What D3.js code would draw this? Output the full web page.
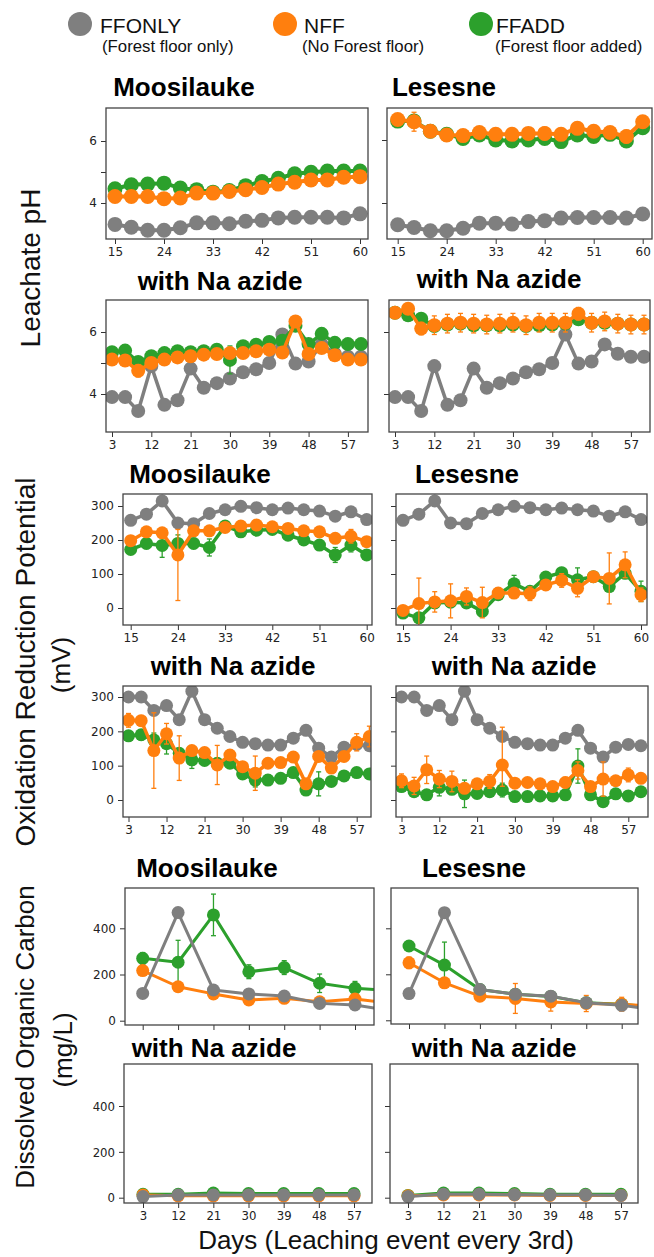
<!DOCTYPE html>
<html>
<head>
<meta charset="utf-8">
<script src="https://cdn.jsdelivr.net/npm/d3@7"></script>
<style>
  body { margin: 0; background: #fff; }
  svg { display: block; }
</style>
</head>
<body>
<svg id="chart"></svg>
<script>
// ---- data ----
const daysLate = [15, 18, 21, 24, 27, 30, 33, 36, 39, 42, 45, 48, 51, 54, 57, 60];
const daysAll = [3, 6, 9, 12, 15, 18, 21, 24, 27, 30, 33, 36, 39, 42, 45, 48, 51, 54, 57, 60];
const daysDoc = [3, 12, 21, 30, 39, 48, 57, 66];
const daysDocAz = [3, 12, 21, 30, 39, 48, 57];

const ticksLate = [15, 24, 33, 42, 51, 60];
const ticksAll = [3, 12, 21, 30, 39, 48, 57];

const seriesNames = ["FFONLY", "NFF", "FFADD"];
const seriesNotes = ["(Forest floor only)", "(No Forest floor)", "(Forest floor added)"];

// pH
const phFFONLY = [3.31, 3.22, 3.12, 3.12, 3.2, 3.36, 3.36, 3.33, 3.41, 3.44, 3.52, 3.54, 3.54, 3.54, 3.52, 3.65];
const phMooNFF = [4.21, 4.21, 4.21, 4.14, 4.16, 4.32, 4.32, 4.37, 4.43, 4.5, 4.61, 4.67, 4.74, 4.74, 4.83, 4.85];
const phMooNFFErr = [0, 0, 0, 0, 0, 0, 0, 0, 0, 0, 0, 0, 0, 0.12, 0.15, 0.12];
const phMooFFADD = [4.46, 4.59, 4.61, 4.64, 4.48, 4.43, 4.35, 4.4, 4.56, 4.69, 4.8, 4.94, 4.99, 5.03, 5.03, 5.03];
const phMooFFADDErr = [0, 0, 0.15, 0, 0, 0, 0, 0, 0, 0, 0, 0, 0, 0, 0, 0];
const phLesNFF = [6.65, 6.58, 6.28, 6.16, 6.14, 6.24, 6.18, 6.18, 6.21, 6.21, 6.18, 6.37, 6.28, 6.24, 6.11, 6.58];
const phLesNFFErr = [0, 0.3, 0, 0, 0, 0, 0, 0, 0, 0.2, 0, 0, 0.1, 0, 0.2, 0];
const phLesFFADD = [6.6, 6.6, 6.28, 6.18, 6.05, 6.16, 6.0, 5.97, 6.0, 6.05, 5.95, 6.16, 6.11, 6.18, 5.97, 6.39];

const phAzFFONLY = [3.9, 3.9, 3.45, 4.9, 3.65, 3.8, 4.82, 4.2, 4.35, 4.5, 4.7, 4.8, 5.0, 5.92, 4.98, 5.05, 5.6, 5.3, 5.2, 5.2];
const phAzMooNFF = [5.11, 5.08, 4.75, 5.0, 5.11, 5.18, 5.22, 5.27, 5.29, 5.32, 5.32, 5.38, 5.43, 5.34, 6.34, 5.29, 5.48, 5.25, 5.11, 5.11];
const phAzMooNFFErr = [0.15, 0.1, 0.2, 0, 0, 0, 0, 0, 0, 0, 0, 0, 0, 0, 0, 0, 0.12, 0, 0, 0];
const phAzMooFFADD = [5.35, 5.4, 5.03, 5.22, 5.32, 5.38, 5.35, 5.38, 5.43, 5.1, 5.54, 5.59, 5.68, 5.72, 6.2, 5.61, 5.94, 5.65, 5.61, 5.61];
const phAzMooFFADDErr = [0.15, 0, 0, 0, 0, 0, 0, 0, 0, 0.45, 0, 0, 0, 0, 0, 0, 0, 0, 0, 0];
const phAzLesNFF = [6.62, 6.75, 6.11, 6.22, 6.27, 6.3, 6.27, 6.24, 6.27, 6.3, 6.22, 6.3, 6.3, 6.3, 6.59, 6.3, 6.34, 6.27, 6.24, 6.24];
const phAzLesNFFErr = [0, 0, 0.2, 0.3, 0.3, 0.3, 0.3, 0.3, 0.3, 0.3, 0.3, 0.3, 0.3, 0.3, 0.2, 0.3, 0.3, 0.3, 0.3, 0.3];
const phAzLesFFADD = [6.62, 6.54, 6.43, 6.19, 6.24, 6.27, 6.22, 6.22, 6.22, 6.24, 6.19, 6.22, 6.24, 6.27, 6.41, 6.3, 6.3, 6.27, 6.24, 6.24];

// ORP (mV)
const orpFFONLY = [258, 276, 315, 250, 248, 278, 289, 299, 295, 289, 294, 289, 285, 270, 283, 260];
const orpMooNFF = [198, 224, 221, 156, 227, 227, 237, 241, 244, 239, 234, 227, 224, 205, 211, 195];
const orpMooNFFErr = [0, 0, 0, [134, 75], 0, 0, 0, 0, 0, 0, 0, 0, 0, 0, 20, 0];
const orpMooFFADD = [172, 190, 184, 190, 190, 178, 241, 224, 229, 231, 214, 200, 185, 156, 185, 156];
const orpMooFFADDErr = [0, 15, 35, 25, 15, 25, 0, 0, 0, 0, 0, 0, 0, 22, 20, 0];
const orpLesNFF = [-7, 13, 18, 21, 34, 16, 44, 44, 42, 68, 81, 58, 92, 87, 127, 39];
const orpLesNFFErr = [10, 75, 30, 50, 25, 45, 15, 8, 20, 8, 20, 25, 15, 75, 38, 20];
const orpLesFFADD = [-15, -29, 15, 17, 15, -10, 39, 71, 49, 91, 104, 83, 92, 63, 102, 49];
const orpLesFFADDErr = [0, 12, 0, 0, 0, 0, 0, 25, 0, 10, 15, 35, 0, 0, 15, 30];

const orpAzFFONLY = [300, 300, 261, 275, 234, 317, 234, 209, 185, 168, 164, 160, 160, 180, 203, 151, 125, 154, 162, 158];
const orpAzMooNFF = [232, 231, 144, 193, 122, 144, 138, 102, 131, 97, 78, 107, 109, 125, 47, 127, 93, 127, 168, 185];
const orpAzMooNFFErr = [20, 15, 110, 30, 65, 8, 10, 57, 15, 8, 50, 8, 8, 8, 10, 12, 10, 12, 25, 30];
const orpAzMooFFADD = [187, 190, 175, 164, 136, 117, 115, 107, 107, 76, 58, 58, 63, 80, 29, 47, 54, 70, 80, 76];
const orpAzMooFFADDErr = [0, 15, 20, 30, 0, 25, 0, 0, 0, 0, 20, 15, 0, 0, 0, 35, 0, 10, 0, 0];
const orpAzLesNFF = [56, 41, 88, 61, 54, 34, 47, 54, 102, 49, 51, 47, 39, 51, 86, 39, 61, 56, 73, 63];
const orpAzLesNFFErr = [20, 25, 40, 25, 30, 8, 15, 20, [62, 110], 10, 10, 12, 10, 15, 25, 10, 50, 12, 20, 10];
const orpAzLesFFADD = [39, 24, 15, 37, 31, 18, 19, 24, 29, 10, 10, 12, 12, 15, 99, 15, -5, 18, 12, 24];
const orpAzLesFFADDErr = [0, 0, 0, 25, 0, 40, 0, 0, 20, 0, 0, 0, 0, 0, 50, 0, 0, 0, 0, 0];

// DOC (mg/L)
const docMooFFONLY = [118, 468, 133, 116, 107, 75, 68, 44];
const docMooNFF = [217, 147, 116, 90, 97, 82, 94, 75];
const docMooNFFErr = [10, 0, 0, 0, 0, 0, 0, 0];
const docMooFFADD = [270, 253, 458, 212, 230, 162, 140, 131];
const docMooFFADDErr = [25, 95, 90, 30, 30, 40, 30, 0];
const docLesFFONLY = [116, 468, 134, 113, 105, 76, 65, 45];
const docLesNFF = [250, 163, 105, 95, 80, 73, 70, 60];
const docLesNFFErr = [25, 0, 0, 65, 40, 35, 30, 0];
const docLesFFADD = [323, 240, 134, 113, 104, 76, 70, 55];
const docLesFFADDErr = [0, 100, 0, 0, 0, 0, 0, 0];

const docAzMooFFONLY = [5, 12, 12, 12, 12, 12, 12];
const docAzMooNFF = [12, 8, 8, 8, 8, 8, 8];
const docAzMooFFADD = [15, 15, 20, 18, 18, 18, 18];
const docAzLesFFONLY = [5, 15, 15, 13, 12, 12, 10];
const docAzLesNFF = [8, 12, 12, 12, 10, 10, 10];
const docAzLesFFADD = [10, 20, 20, 18, 15, 15, 15];

// ---- drawing ----
const W = 654, H = 1257;
const colors = { FFONLY: "#7f7f7f", NFF: "#ff7f0e", FFADD: "#2ca02c" };
const sans = "'Liberation Sans', Arial, sans-serif";
const tickFont = "'DejaVu Sans', sans-serif";

const svg = d3.select("#chart").attr("width", W).attr("height", H);

function trio(g, o, gr, oErr, grErr, docOrder) {
  const a = { data: g, color: colors.FFONLY };
  const b = { data: o, err: oErr, color: colors.NFF };
  const c = { data: gr, err: grErr, color: colors.FFADD };
  return docOrder ? [c, b, a] : [a, c, b];
}

const panels = [
  // pH
  { id: "a1", box: [106, 368, 108, 239], xRef: [15, 60], xPix: [115, 360], yRef: [4, 6], yPix: [203, 141],
    days: daysLate, xTicks: ticksLate, xLab: true, yTicks: [4, 5, 6], yLab: [4, 6], r: 7.5, lw: 4,
    title: "Moosilauke", tx: 184, ty: 96, series: trio(phFFONLY, phMooNFF, phMooFFADD, phMooNFFErr, phMooFFADDErr) },
  { id: "a2", box: [387, 652, 108, 239], xRef: [15, 60], xPix: [397.7, 642.7], yRef: [4, 6], yPix: [203, 140],
    days: daysLate, xTicks: ticksLate, xLab: true, yTicks: [4, 6], yLab: [], r: 7.5, lw: 4,
    title: "Lesesne", tx: 444, ty: 96, series: trio(phFFONLY, phLesNFF, phLesFFADD, phLesNFFErr, null) },
  { id: "b1", box: [106, 368, 300, 432], xRef: [3, 60], xPix: [112, 361], yRef: [4, 6], yPix: [394, 332],
    days: daysAll, xTicks: ticksAll, xLab: true, yTicks: [4, 5, 6], yLab: [4, 6], r: 7, lw: 3.5,
    title: "with Na azide", tx: 220, ty: 290, series: trio(phAzFFONLY, phAzMooNFF, phAzMooFFADD, phAzMooNFFErr, phAzMooFFADDErr) },
  { id: "b2", box: [389, 650, 300, 432], xRef: [3, 60], xPix: [395, 644], yRef: [4, 6], yPix: [394, 332],
    days: daysAll, xTicks: ticksAll, xLab: true, yTicks: [4, 6], yLab: [], r: 7, lw: 3.5,
    title: "with Na azide", tx: 499, ty: 288, series: trio(phAzFFONLY, phAzLesNFF, phAzLesFFADD, phAzLesNFFErr, null) },
  // ORP
  { id: "c1", box: [123, 372, 494, 625], xRef: [15, 60], xPix: [130.7, 366.7], yRef: [0, 300], yPix: [608, 506],
    days: daysLate, xTicks: ticksLate, xLab: true, yTicks: [0, 100, 200, 300], yLab: [0, 100, 200, 300], r: 6.5, lw: 3.5,
    title: "Moosilauke", tx: 200, ty: 483, series: trio(orpFFONLY, orpMooNFF, orpMooFFADD, orpMooNFFErr, orpMooFFADDErr) },
  { id: "c2", box: [396, 647, 494, 625], xRef: [15, 60], xPix: [403, 641], yRef: [0, 300], yPix: [608, 506],
    days: daysLate, xTicks: ticksLate, xLab: true, yTicks: [0, 100, 200, 300], yLab: [], r: 6.5, lw: 3.5,
    title: "Lesesne", tx: 467, ty: 483, series: trio(orpFFONLY, orpLesNFF, orpLesFFADD, orpLesNFFErr, orpLesFFADDErr) },
  { id: "d1", box: [123, 371, 686, 817], xRef: [3, 57], xPix: [128.5, 356.7], yRef: [0, 300], yPix: [800, 697],
    days: daysAll, xTicks: ticksAll, xLab: true, yTicks: [0, 100, 200, 300], yLab: [0, 100, 200, 300], r: 6.5, lw: 3.5,
    title: "with Na azide", tx: 233, ty: 675, series: trio(orpAzFFONLY, orpAzMooNFF, orpAzMooFFADD, orpAzMooNFFErr, orpAzMooFFADDErr) },
  { id: "d2", box: [396, 648, 686, 817], xRef: [3, 57], xPix: [401.5, 628.3], yRef: [0, 300], yPix: [800, 697],
    days: daysAll, xTicks: ticksAll, xLab: true, yTicks: [0, 100, 200, 300], yLab: [], r: 6.5, lw: 3.5,
    title: "with Na azide", tx: 514, ty: 675, series: trio(orpAzFFONLY, orpAzLesNFF, orpAzLesFFADD, orpAzLesNFFErr, orpAzLesFFADDErr) },
  // DOC
  { id: "e1", box: [125, 374, 888, 1025], xRef: [3, 57], xPix: [142.7, 355], yRef: [0, 400], yPix: [1020.7, 928.3],
    days: daysDoc, xTicks: ticksAll, xLab: false, yTicks: [0, 200, 400], yLab: [0, 200, 400], r: 6.5, lw: 3,
    title: "Moosilauke", tx: 207, ty: 877, series: trio(docMooFFONLY, docMooNFF, docMooFFADD, docMooNFFErr, docMooFFADDErr, true) },
  { id: "e2", box: [391, 638, 888, 1024], xRef: [3, 57], xPix: [409, 621.7], yRef: [0, 400], yPix: [1020.3, 928.3],
    days: daysDoc, xTicks: ticksAll, xLab: false, yTicks: [0, 200, 400], yLab: [], r: 6.5, lw: 3,
    title: "Lesesne", tx: 474, ty: 877, series: trio(docLesFFONLY, docLesNFF, docLesFFADD, docLesNFFErr, docLesFFADDErr, true) },
  { id: "f1", box: [124, 372, 1064, 1203], xRef: [3, 57], xPix: [143, 354], yRef: [0, 400], yPix: [1197.7, 1106],
    days: daysDocAz, xTicks: ticksAll, xLab: true, yTicks: [0, 200, 400], yLab: [0, 200, 400], r: 6.5, lw: 3, cond: true,
    title: "with Na azide", tx: 214, ty: 1057, series: trio(docAzMooFFONLY, docAzMooNFF, docAzMooFFADD, null, null, true) },
  { id: "f2", box: [390, 638, 1064, 1203], xRef: [3, 57], xPix: [408, 621], yRef: [0, 400], yPix: [1197.7, 1106],
    days: daysDocAz, xTicks: ticksAll, xLab: true, yTicks: [0, 200, 400], yLab: [], r: 6.5, lw: 3, cond: true,
    title: "with Na azide", tx: 494, ty: 1057, series: trio(docAzLesFFONLY, docAzLesNFF, docAzLesFFADD, null, null, true) }
];

function drawPanel(p) {
  const [x0, x1, y0, y1] = p.box;
  const x = d3.scaleLinear().domain(p.xRef).range(p.xPix);
  const y = d3.scaleLinear().domain(p.yRef).range(p.yPix);
  const g = svg.append("g");
  const font = p.cond ? "'DejaVu Sans Condensed', 'DejaVu Sans', sans-serif" : tickFont;
  const fsize = p.cond ? 13 : 12;

  svg.append("clipPath").attr("id", "clip-" + p.id)
    .append("rect").attr("x", x0).attr("y", y0).attr("width", x1 - x0).attr("height", y1 - y0);

  // axes
  const xa = d3.axisBottom(x).tickValues(p.xTicks).tickSize(5).tickPadding(3)
    .tickFormat(d => p.xLab ? d : "");
  const gx = g.append("g").attr("transform", `translate(0,${y1})`).call(xa);
  const ya = d3.axisLeft(y).tickValues(p.yTicks).tickSize(5).tickPadding(4)
    .tickFormat(d => p.yLab.includes(d) ? d : "");
  const gy = g.append("g").attr("transform", `translate(${x0},0)`).call(ya);
  [gx, gy].forEach(a => {
    a.select(".domain").remove();
    a.selectAll("line").attr("stroke", "#333");
    a.selectAll("text").attr("font-family", font).attr("font-size", fsize).attr("fill", "#222");
  });

  const plot = g.append("g").attr("clip-path", `url(#clip-${p.id})`);
  const line = d3.line().x(q => x(q.d)).y(q => y(q.v));

  p.series.forEach(s => {
    const pts = p.days.map((d, i) => ({ d: d, v: s.data[i], e: s.err ? s.err[i] : 0 }));
    plot.append("path").datum(pts).attr("d", line)
      .attr("fill", "none").attr("stroke", s.color).attr("stroke-width", p.lw)
      .attr("stroke-linejoin", "round");

    const eb = pts.filter(q => Array.isArray(q.e) || q.e > 0).map(q => {
      const lo = Array.isArray(q.e) ? q.e[0] : q.e;
      const hi = Array.isArray(q.e) ? q.e[1] : q.e;
      return { d: q.d, lo: q.v - lo, hi: q.v + hi };
    });
    const ebg = plot.append("g").attr("stroke", s.color).attr("stroke-width", 1.3);
    ebg.selectAll(".v").data(eb).join("line")
      .attr("x1", q => x(q.d)).attr("x2", q => x(q.d))
      .attr("y1", q => y(q.lo)).attr("y2", q => y(q.hi));
    ebg.selectAll(".c1").data(eb).join("line")
      .attr("x1", q => x(q.d) - 2.5).attr("x2", q => x(q.d) + 2.5)
      .attr("y1", q => y(q.lo)).attr("y2", q => y(q.lo));
    ebg.selectAll(".c2").data(eb).join("line")
      .attr("x1", q => x(q.d) - 2.5).attr("x2", q => x(q.d) + 2.5)
      .attr("y1", q => y(q.hi)).attr("y2", q => y(q.hi));

    plot.append("g").selectAll("circle").data(pts).join("circle")
      .attr("cx", q => x(q.d)).attr("cy", q => y(q.v)).attr("r", p.r)
      .attr("fill", s.color);
  });

  g.append("rect").attr("x", x0).attr("y", y0).attr("width", x1 - x0).attr("height", y1 - y0)
    .attr("fill", "none").attr("stroke", "#444").attr("stroke-width", 1.3);

  g.append("text").attr("x", p.tx).attr("y", p.ty).attr("text-anchor", "middle")
    .attr("font-family", sans).attr("font-weight", "bold").attr("font-size", 26)
    .attr("fill", "#000").text(p.title);
}

panels.forEach(drawPanel);

// legend
const legX = [80, 285, 481];
const nameX = [100, 304, 496];
const noteX = [102, 302, 495];
const legend = svg.append("g");
seriesNames.forEach((n, i) => {
  legend.append("circle").attr("cx", legX[i]).attr("cy", 24).attr("r", 12).attr("fill", colors[n]);
  legend.append("text").attr("x", nameX[i]).attr("y", 33)
    .attr("font-family", sans).attr("font-size", 21).attr("fill", "#111").text(n);
  legend.append("text").attr("x", noteX[i]).attr("y", 52)
    .attr("font-family", sans).attr("font-size", 16.8).attr("fill", "#111").text(seriesNotes[i]);
});

// axis titles
function vlabel(txt, bx, cy, size) {
  svg.append("text").attr("transform", `translate(${bx},${cy}) rotate(-90)`)
    .attr("text-anchor", "middle").attr("font-family", sans).attr("font-size", size)
    .attr("fill", "#111").text(txt);
}
vlabel("Leachate pH", 40, 268, 28);
vlabel("Oxidation Reduction Potential", 35, 662, 28);
vlabel("(mV)", 70, 665, 26);
vlabel("Dissolved Organic Carbon", 34, 1037, 26);
vlabel("(mg/L)", 72, 1050, 26);

svg.append("text").attr("x", 386).attr("y", 1249).attr("text-anchor", "middle")
  .attr("font-family", sans).attr("font-size", 26).attr("fill", "#111")
  .text("Days (Leaching event every 3rd)");
</script>
</body>
</html>
